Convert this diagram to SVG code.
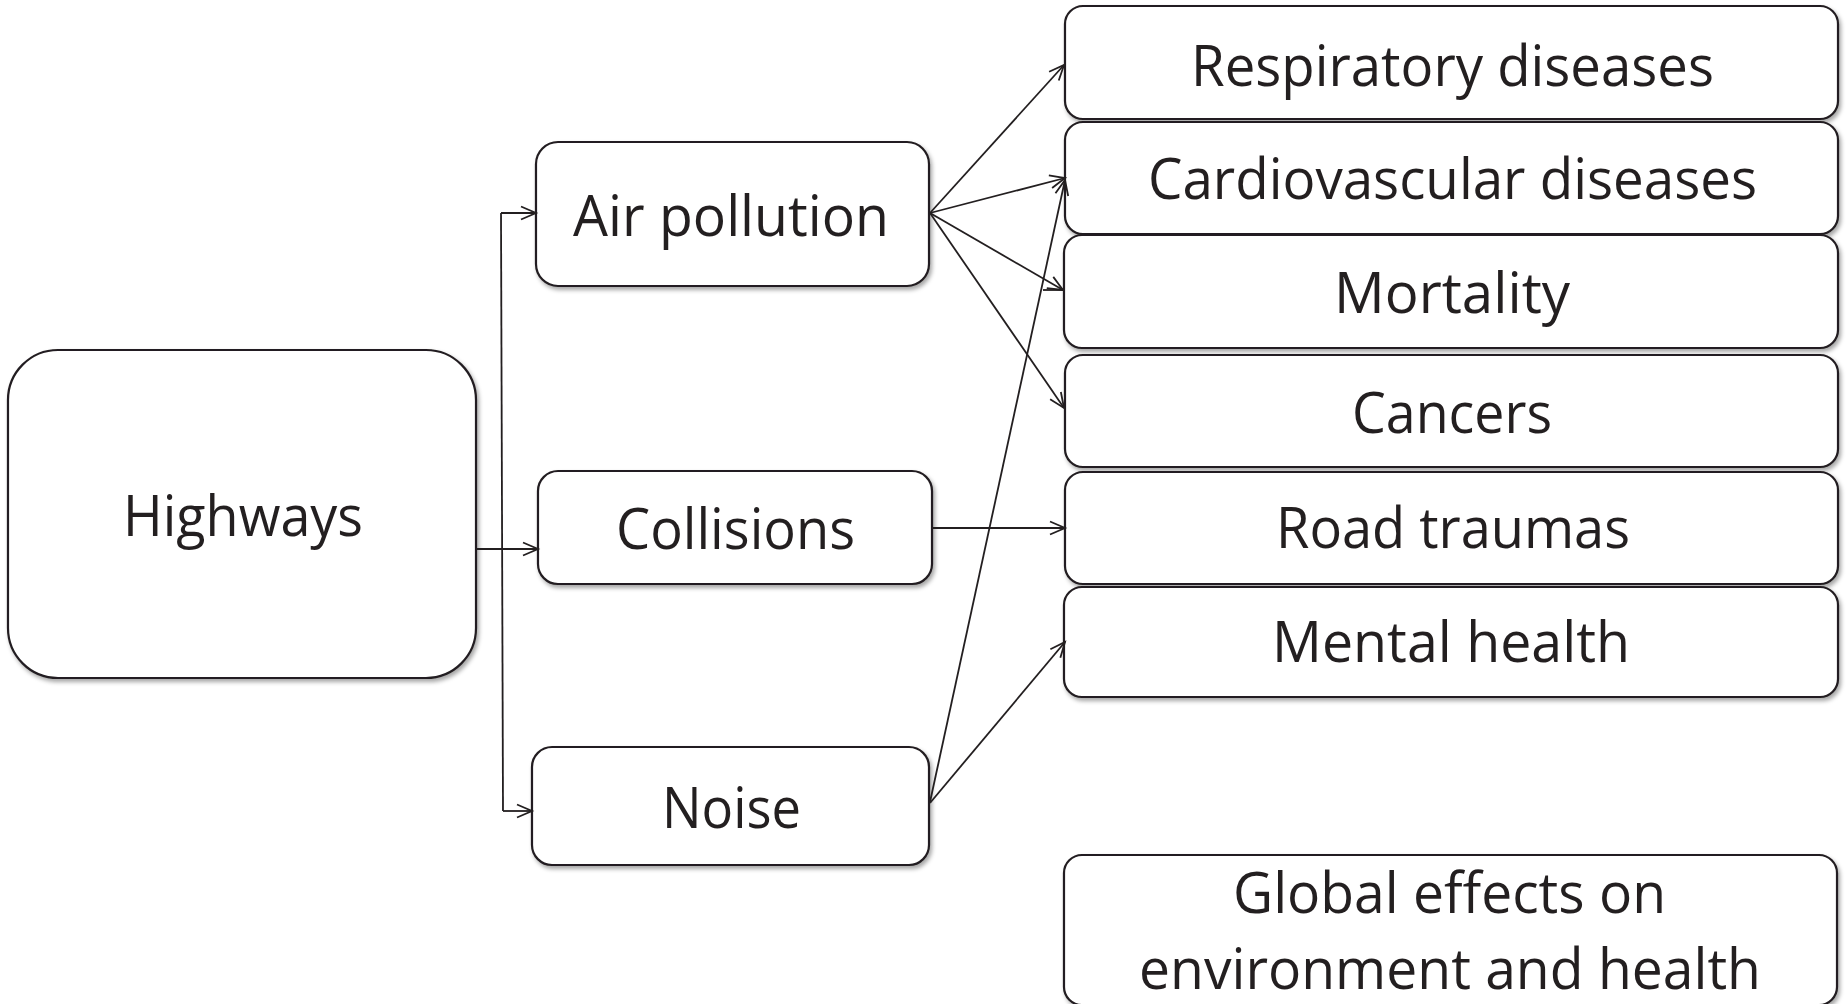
<svg xmlns="http://www.w3.org/2000/svg" width="1847" height="1004" viewBox="0 0 1847 1004">
<style>
.box{fill:#fff;stroke:#231f20;stroke-width:2.2;filter:url(#sh)}
.lbl{font-family:"Open Sans","Noto Sans",sans-serif;font-size:57px;fill:#231f20;text-anchor:middle}
.con path{fill:none;stroke:#231f20;stroke-width:1.8}
</style>
<defs>
<filter id="sh" x="-5%" y="-5%" width="115%" height="125%">
<feDropShadow dx="2" dy="3" stdDeviation="2" flood-color="#000" flood-opacity="0.35"/>
</filter>
<marker id="ar" markerUnits="userSpaceOnUse" markerWidth="18" markerHeight="16" refX="16" refY="8" orient="auto" overflow="visible">
<path d="M1,1.5 L16,8 L1,14.5" fill="none" stroke="#231f20" stroke-width="1.8"/>
</marker>
</defs>
<rect width="1847" height="1004" fill="#fff"/>
<g id="highways"><rect class="box" x="8" y="350" width="468" height="328" rx="50"/><text class="lbl" x="243" y="536" textLength="240" lengthAdjust="spacingAndGlyphs">Highways</text></g>
<g id="air"><rect class="box" x="536" y="142" width="393" height="144" rx="22"/><text class="lbl" x="731" y="236" textLength="316" lengthAdjust="spacingAndGlyphs">Air pollution</text></g>
<g id="collisions"><rect class="box" x="538" y="471" width="394" height="113" rx="20"/><text class="lbl" x="735.5" y="549" textLength="239" lengthAdjust="spacingAndGlyphs">Collisions</text></g>
<g id="noise"><rect class="box" x="532" y="747" width="397" height="118" rx="20"/><text class="lbl" x="731.5" y="828" textLength="139" lengthAdjust="spacingAndGlyphs">Noise</text></g>
<g id="respiratory"><rect class="box" x="1065" y="6" width="773" height="113" rx="18"/><text class="lbl" x="1452.5" y="86" textLength="523" lengthAdjust="spacingAndGlyphs">Respiratory diseases</text></g>
<g id="cardiovascular"><rect class="box" x="1065" y="122" width="773" height="112" rx="18"/><text class="lbl" x="1452.5" y="199" textLength="609" lengthAdjust="spacingAndGlyphs">Cardiovascular diseases</text></g>
<g id="mortality"><rect class="box" x="1064" y="235" width="774" height="113" rx="18"/><text class="lbl" x="1452" y="313" textLength="236" lengthAdjust="spacingAndGlyphs">Mortality</text></g>
<g id="cancers"><rect class="box" x="1065" y="355" width="773" height="112" rx="18"/><text class="lbl" x="1452" y="433" textLength="200" lengthAdjust="spacingAndGlyphs">Cancers</text></g>
<g id="road"><rect class="box" x="1065" y="472" width="773" height="112" rx="18"/><text class="lbl" x="1453" y="548" textLength="354" lengthAdjust="spacingAndGlyphs">Road traumas</text></g>
<g id="mental"><rect class="box" x="1064" y="587" width="774" height="110" rx="18"/><text class="lbl" x="1451" y="662" textLength="358" lengthAdjust="spacingAndGlyphs">Mental health</text></g>
<g id="global"><rect class="box" x="1064" y="855" width="773" height="150" rx="18"/><text class="lbl" x="1449.5" y="913" textLength="433" lengthAdjust="spacingAndGlyphs">Global effects on</text><text class="lbl" x="1450" y="989" textLength="622" lengthAdjust="spacingAndGlyphs">environment and health</text></g>
<g id="connectors" class="con">
<path d="M501,213 L503,811"/>
<path d="M501,213 L536,213" marker-end="url(#ar)"/>
<path d="M476,549 L538,549" marker-end="url(#ar)"/>
<path d="M503,811 L532,811" marker-end="url(#ar)"/>
<path d="M930,213 L1064,65" marker-end="url(#ar)"/>
<path d="M930,213 L1065,178" marker-end="url(#ar)"/>
<path d="M930,213 L1063,290" marker-end="url(#ar)"/>
<path d="M1043,290 L1063,290"/>
<path d="M930,213 L1064,408" marker-end="url(#ar)"/>
<path d="M932,528 L1065,528" marker-end="url(#ar)"/>
<path d="M930,802 L1065,180" marker-end="url(#ar)"/>
<path d="M930,803 L1065,642" marker-end="url(#ar)"/>
</g>
</svg>
